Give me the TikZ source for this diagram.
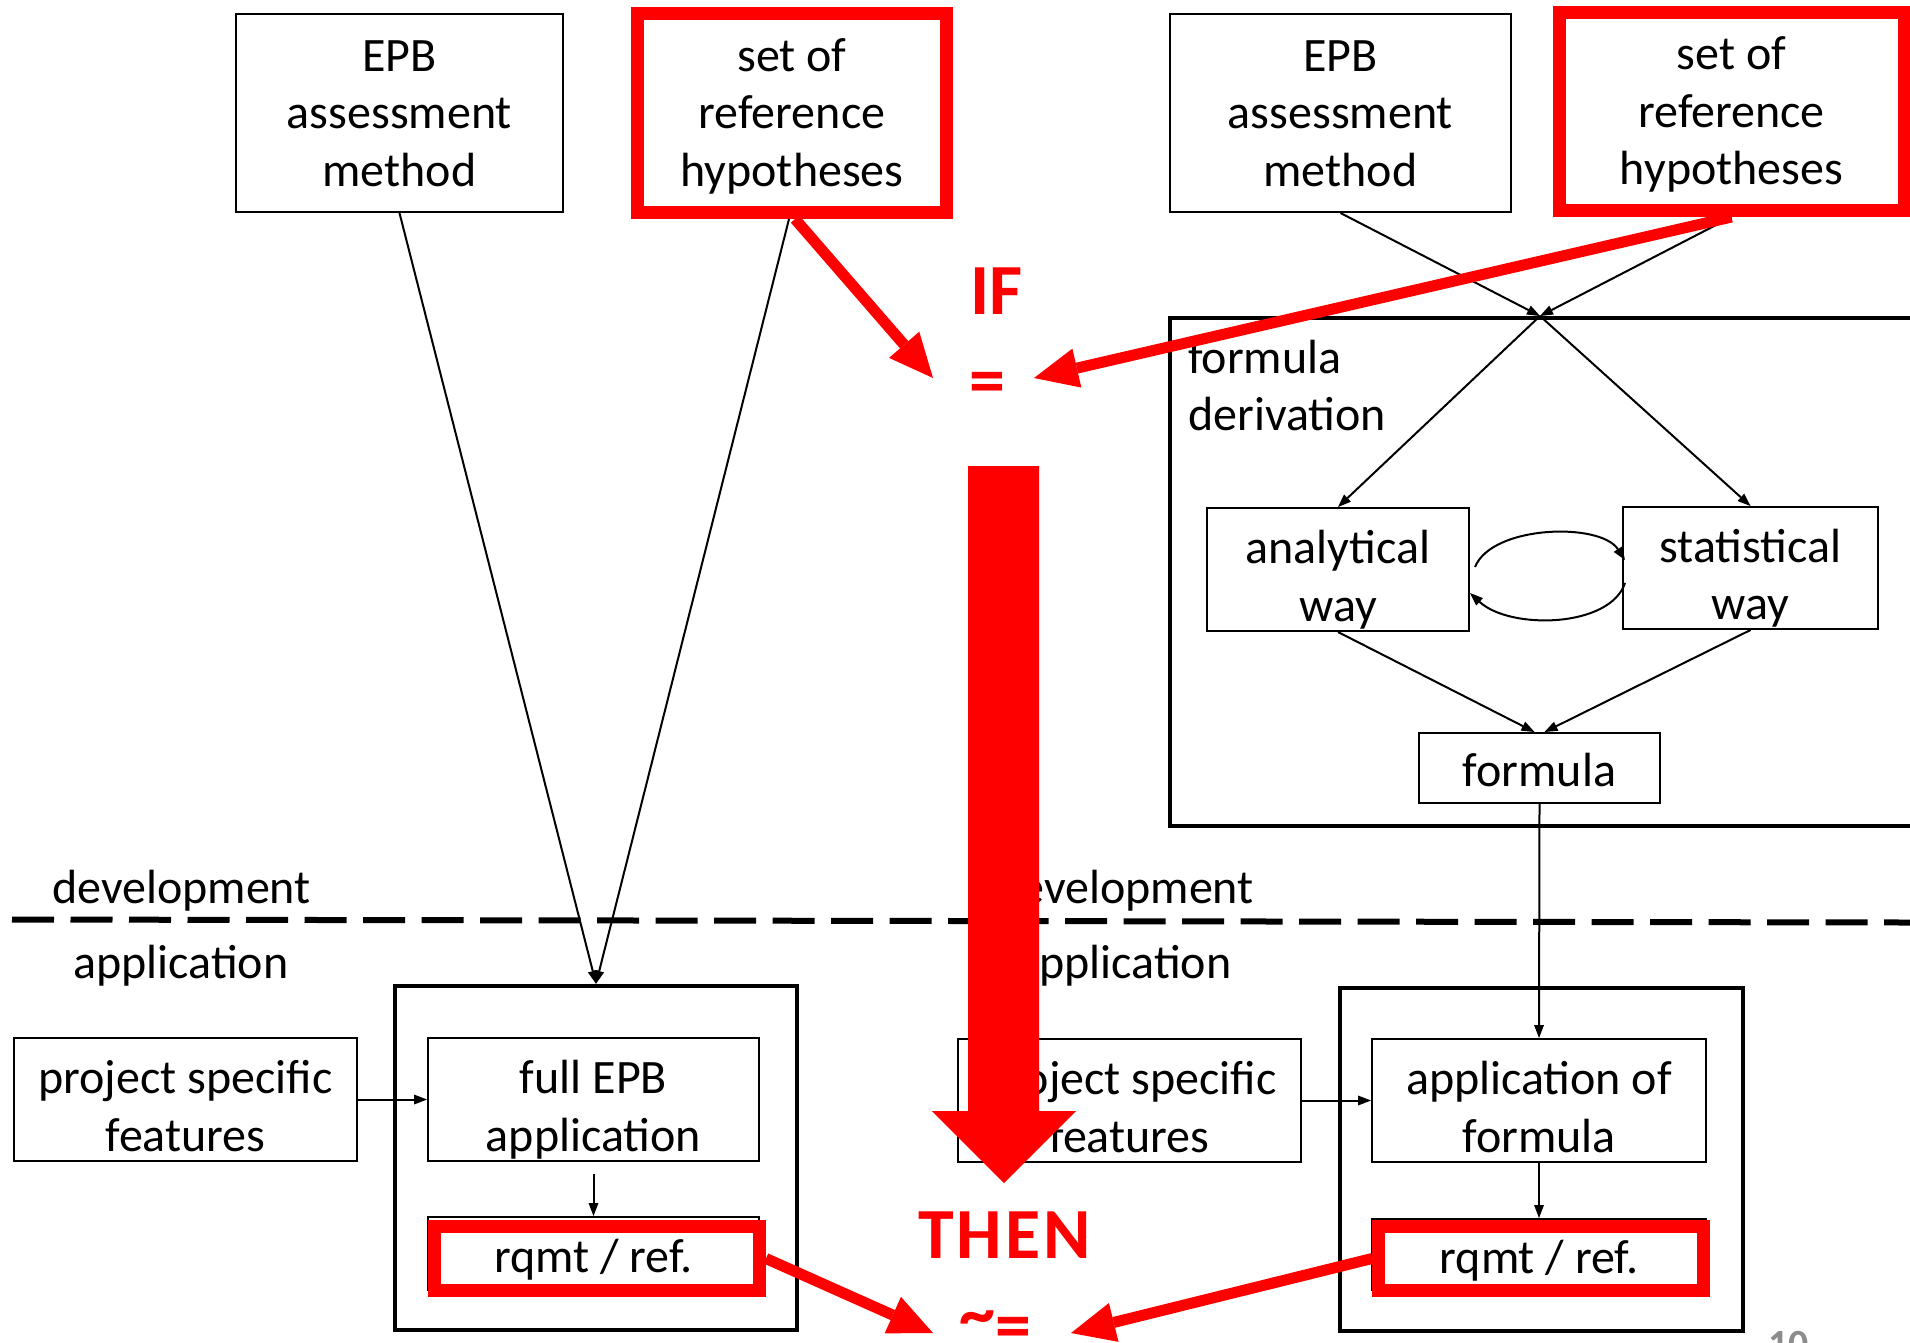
\documentclass[tikz,border=0pt]{standalone}
\usepackage{fontspec}
\setmainfont{Carlito}
\usetikzlibrary{arrows.meta,calc}
\definecolor{hired}{RGB}{255,0,0}
\definecolor{pagegray}{RGB}{140,140,140}
% invisible struts fixing the height of a first line and the depth of a last line
\newcommand\hs[1]{\rule{0pt}{#1pt}}
\newcommand\ds[1]{\rule[-#1pt]{0pt}{#1pt}}
\begin{document}
\begin{tikzpicture}[x=1pt,y=-1pt,
  every node/.style={inner sep=0pt},
  txt/.style={font=\fontsize{48}{57.5}\selectfont, align=center},
  bx/.style 2 args={draw, line width=2pt, minimum width=#1pt, minimum height=#2pt, txt},
  redbx/.style 2 args={draw=hired, line width=13pt, minimum width=#1pt, minimum height=#2pt, txt},
  frame/.style 2 args={draw, line width=4.5pt, minimum width=#1pt, minimum height=#2pt},
  blk/.style={line width=2pt, -{Triangle[length=13pt,width=10pt,line width=0pt]}},
  redarr/.style={draw=hired, line width=11pt, -{Triangle[length=44pt,width=40pt,line width=0pt]}},
  redtxt/.style={font=\bfseries\fontsize{72}{86}\selectfont, text=hired},
  lbl/.style={font=\fontsize{48}{57.5}\selectfont, anchor=base west}
]
\useasboundingbox (0,0) rectangle (1910,1342);
\fill[white] (0,0) rectangle (1910,1342);

% ---- development: top boxes ----
\node[bx={327}{198}] (epbL) at (399.5,113) {\hs{41}EPB\\assessment\\method\ds{10}};
\node[redbx={309}{199}] (setL) at (792,113) {\hs{41}set of\\reference\\hypotheses\ds{10}};
\node[bx={341}{198}] (epbR) at (1340.5,113) {\hs{41}EPB\\assessment\\method\ds{10}};
\node[redbx={345}{198}] (setR) at (1731.5,111.5) {\hs{41}set of\\reference\\hypotheses\ds{10}};

% ---- formula derivation frame ----
\node[frame={780}{508}] (fd) at (1560,572) {};
\node[txt, align=left, anchor=north west] (fdlab) at (1188,335) {\hs{38}formula\\derivation};
\node[bx={262}{123}] (an) at (1338,569.5) {\hs{55}analytical\\way\ds{9}};
\node[bx={255}{122}] (st) at (1750.5,568) {\hs{55}statistical\\way\ds{9}};
\node[bx={241}{70}] (form) at (1539.5,768) {\hs{48}formula\ds{12}};
\coordinate (cross) at (1540,316);

% ---- development / application separator ----
\draw[line width=6pt, dash pattern=on 42pt off 16.5pt] (12,919.5) -- (1910,922.5);
\node[lbl] (devL) at (52,903) {development};
\node[lbl] (applL) at (73,978) {application};
\node[lbl] (devR) at (995,903) {development};
\node[lbl] (applR) at (1016,978) {application};

% ---- application: left ----
\node[frame={402}{344}] (appL) at (596,1158) {};
\node[bx={343}{123}] (projL) at (185.5,1099.5) {\hs{55}project specific\\features\ds{9}};
\node[bx={331}{123}] (fullL) at (593.5,1099.5) {\hs{55}full EPB\\application\ds{9}};
\node[bx={331}{73}] (rqL) at (593.5,1253.5) {\hs{49}rqmt / ref.\ds{12}};
\node[draw=hired, line width=13pt, minimum width=325.5pt, minimum height=64pt] (rqLh) at (596.75,1258.5) {};

% ---- application: right ----
\node[frame={403}{343}] (appR) at (1541.5,1159.5) {};
\node[bx={343}{123}] (projR) at (1129.5,1100.5) {\hs{55}project specific\\features\ds{9}};
\node[bx={334}{123}] (afR) at (1539,1100.5) {\hs{55}application of\\formula\ds{9}};
\node[bx={334}{71}] (rqR) at (1539,1254.5) {\hs{49}rqmt / ref.\ds{12}};
\node[draw=hired, line width=13pt, minimum width=325pt, minimum height=64pt] (rqRh) at (1541,1258.5) {};

% ---- black connectors ----
\draw[blk] (epbL.south) -- (appL.north);
\draw[blk] ($(setL.south)+(-3,0)$) -- (appL.north);
\draw[blk] (epbR.south) -- (cross);
\draw[blk] (setR.south) -- (cross);
\draw[blk] (cross) -- (an.north);
\draw[blk] (cross) -- (st.north);
\draw[blk] ($(an.east)+(5,-2.5)$) .. controls +(17,-42) and +(-25,-38) .. ($(st.west)+(3,-8)$);
\draw[blk] ($(st.west)+(3,15)$) .. controls +(-15,45) and +(40,37) .. ($(an.east)+(0,23.5)$);
\draw[blk] (an.south) -- ($(form.north)+(-5,0)$);
\draw[blk] (st.south) -- ($(form.north)+(5,0)$);
\draw[blk] (form.south) -- (afR.north);
\draw[blk] (projR.east) -- (afR.west);
\draw[blk] (afR.south) -- (rqR.north);
\draw[blk] (projL.east) -- (fullL.west);
\draw[blk, shorten <=12pt] (fullL.south) -- (rqL.north);

% ---- red reasoning overlay ----
\coordinate (tipIFL) at (933,378);
\coordinate (tipIFR) at (1034,378);
\coordinate (tipTHL) at (933,1333);
\coordinate (tipTHR) at (1071,1333);
\draw[redarr] ($(setL.south)+(3,0)$) -- (tipIFL);
\draw[redarr] (setR.south) -- (tipIFR);
\draw[redarr] (rqLh.east) -- (tipTHL);
\draw[redarr] (rqRh.west) -- (tipTHR);

\fill[hired] (968,466) -- (1039,466) -- (1039,1111) -- (1076,1111) -- (1004,1183)
  -- (932,1111) -- (968,1111) -- cycle;

\node[redtxt, anchor=base west] (ifT) at (970,314) {IF};
\node[redtxt, anchor=base west] (eqT) at (969,404) {=};
\node[redtxt, anchor=base west] (thenT) at (918,1258) {T\kern3pt H\kern3pt E\kern3pt N};
\node[redtxt, anchor=base west] (approxT) at (959,1349) {\raisebox{12pt}{\textasciitilde}=};

\node[font=\bfseries\fontsize{40}{48}\selectfont, text=pagegray, anchor=north west] (pg) at (1768,1331) {10};
\end{tikzpicture}
\end{document}
